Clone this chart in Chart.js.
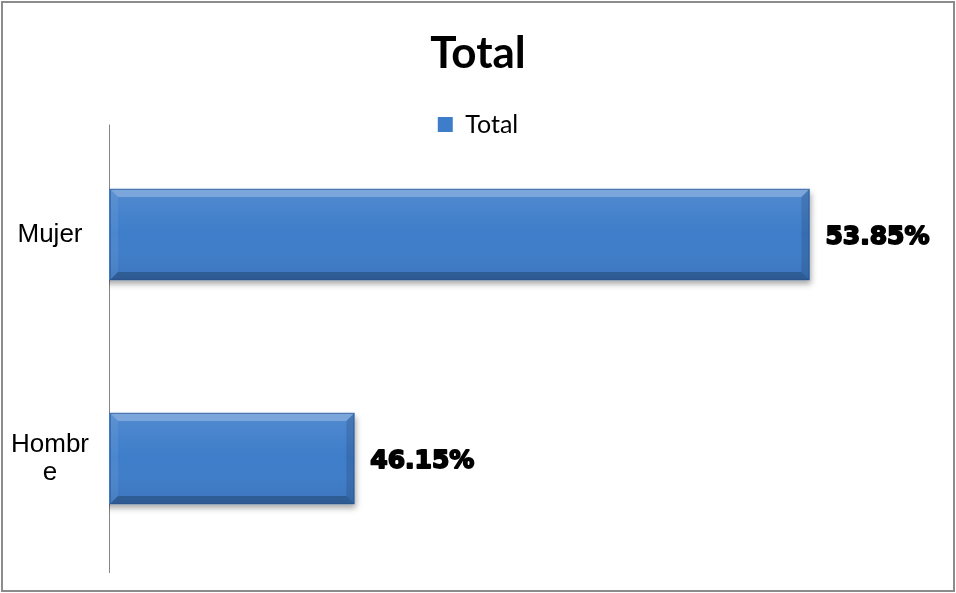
<!DOCTYPE html>
<html>
<head>
<meta charset="utf-8">
<title>Total</title>
<script src="https://cdn.jsdelivr.net/npm/chart.js@4/dist/chart.umd.min.js"></script>
<style>
  html, body { margin: 0; padding: 0; background: #fff; }
  #wrap { position: relative; width: 956px; height: 593px; }
  #chart { position: absolute; left: 0; top: 0; }
  #frame {
    position: absolute; left: 1px; top: 1px; width: 954px; height: 591px;
    box-sizing: border-box; border: 2px solid #8c8c8c; pointer-events: none;
  }
</style>
</head>
<body>
<div id="wrap">
  <canvas id="chart" width="956" height="593"></canvas>
  <div id="frame"></div>
</div>
<script>
// Chart data
const categories = ['Mujer', 'Hombre'];
const tickLabels = ['Mujer', ['Hombr', 'e']];
const seriesName = 'Total';
const totalValues = [53.85, 46.15];

const barBlue = '#3e7dca';

// Soft drop shadow under the bars
const barShadow = {
  id: 'barShadow',
  beforeDatasetsDraw(chart) {
    const ctx = chart.ctx;
    ctx.save();
    ctx.shadowColor = 'rgba(0, 0, 0, 0.35)';
    ctx.shadowBlur = 6;
    ctx.shadowOffsetX = 1;
    ctx.shadowOffsetY = 4;
  },
  afterDatasetsDraw(chart) {
    chart.ctx.restore();
  }
};

// Beveled edges on each bar, plus the value labels at the bar ends
const barBevel = {
  id: 'barBevel',
  afterDatasetsDraw(chart) {
    const ctx = chart.ctx;
    const area = chart.chartArea;
    const meta = chart.getDatasetMeta(0);
    const ds = chart.data.datasets[0];
    meta.data.forEach((bar, i) => {
      const { x, y, base, height } = bar.getProps(['x', 'y', 'base', 'height'], true);
      const l = Math.max(Math.min(base, x), area.left + 1);
      const r = Math.max(base, x);
      const t = y - height / 2, b = y + height / 2;
      const e = 8;
      ctx.save();
      const g = ctx.createLinearGradient(0, t, 0, b);
      g.addColorStop(0, 'rgba(255,255,255,0.10)');
      g.addColorStop(0.5, 'rgba(255,255,255,0.0)');
      g.addColorStop(1, 'rgba(0,0,0,0.08)');
      ctx.fillStyle = g;
      ctx.fillRect(l, t, r - l, b - t);
      const poly = (pts, fill) => {
        ctx.beginPath();
        ctx.moveTo(pts[0][0], pts[0][1]);
        for (let k = 1; k < pts.length; k++) ctx.lineTo(pts[k][0], pts[k][1]);
        ctx.closePath();
        ctx.fillStyle = fill;
        ctx.fill();
      };
      poly([[l, t], [r, t], [r - e, t + e], [l + e, t + e]], 'rgba(255,255,255,0.25)');
      poly([[l, t], [l + e, t + e], [l + e, b - e], [l, b]], 'rgba(255,255,255,0.07)');
      poly([[r, t], [r, b], [r - e, b - e], [r - e, t + e]], 'rgba(0,0,0,0.12)');
      poly([[l, b], [l + e, b - e], [r - e, b - e], [r, b]], 'rgba(0,0,0,0.22)');
      ctx.strokeStyle = 'rgba(40,80,140,0.55)';
      ctx.lineWidth = 1;
      ctx.strokeRect(l + 0.5, t + 0.5, r - l - 1, b - t - 1);
      ctx.restore();

      // value label
      const v = ds.data[i].x;
      const text = v.toFixed(2) + '%';
      ctx.save();
      ctx.font = 'bold 25px "DejaVu Sans"';
      ctx.fillStyle = '#000';
      ctx.strokeStyle = '#000';
      ctx.lineWidth = 1.8;
      ctx.lineJoin = 'round';
      ctx.textAlign = 'left';
      ctx.textBaseline = 'middle';
      ctx.strokeText(text, x + 16, y + 3);
      ctx.fillText(text, x + 16, y + 3);
      ctx.restore();
    });
  }
};

// Vertical axis line carried up to the legend row
const axisExtend = {
  id: 'axisExtend',
  beforeDatasetsDraw(chart) {
    const ctx = chart.ctx;
    const yScale = chart.scales.y;
    const top = chart.legend.top + chart.legend.height / 2;
    const xPos = Math.round(yScale.right) + 0.5;
    ctx.save();
    ctx.strokeStyle = '#868686';
    ctx.lineWidth = 1;
    ctx.beginPath();
    ctx.moveTo(xPos, top);
    ctx.lineTo(xPos, chart.chartArea.top + 1);
    ctx.stroke();
    ctx.restore();
  }
};

new Chart(document.getElementById('chart'), {
  type: 'bar',
  data: {
    labels: categories,
    datasets: [{
      label: seriesName,
      data: totalValues.map((v, i) => ({ x: v, y: i })),
      backgroundColor: barBlue,
      borderWidth: 0,
      barThickness: 91
    }]
  },
  options: {
    indexAxis: 'y',
    responsive: false,
    devicePixelRatio: 1,
    animation: false,
    layout: { padding: { left: 0, right: 0, top: 0, bottom: 21 } },
    scales: {
      x: {
        type: 'linear',
        min: 42,
        max: 56.33,
        display: false
      },
      y: {
        type: 'linear',
        reverse: true,
        offset: false,
        min: -0.3906,
        max: 1.5067,
        grid: { display: false, drawTicks: false },
        border: { display: true, color: '#868686', width: 1 },
        ticks: {
          stepSize: 1,
          includeBounds: false,
          autoSkip: false,
          crossAlign: 'center',
          padding: 20,
          color: '#000',
          font: { family: '"Liberation Sans", Arial, sans-serif', size: 26, lineHeight: 1.08 },
          callback: (v) => Number.isInteger(v) && tickLabels[v] !== undefined ? tickLabels[v] : ''
        },
        afterFit(scale) {
          scale.width = 109;
          scale.paddingTop = 0;
          scale.paddingBottom = 0;
        }
      }
    },
    plugins: {
      title: {
        display: true,
        text: 'Total',
        color: '#000',
        font: { family: 'Lato, "Open Sans", sans-serif', size: 44, weight: 'bold' },
        padding: { top: 27.5, bottom: 21.7 }
      },
      legend: {
        display: true,
        position: 'top',
        align: 'center',
        labels: {
          boxWidth: 15,
          boxHeight: 15,
          padding: 10,
          color: '#000',
          font: { family: 'Lato, "Open Sans", sans-serif', size: 25 }
        }
      },
      tooltip: { enabled: false }
    }
  },
  plugins: [axisExtend, barShadow, barBevel]
});
</script>
</body>
</html>
